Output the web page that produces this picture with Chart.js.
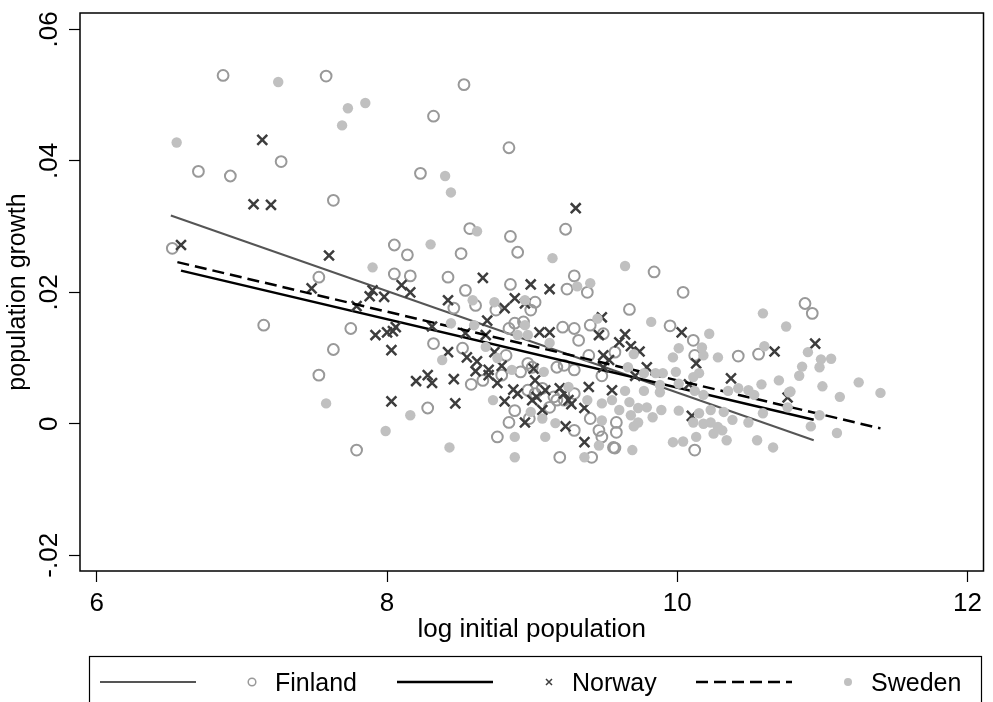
<!DOCTYPE html>
<html>
<head>
<meta charset="utf-8">
<script src="https://cdn.jsdelivr.net/npm/chart.js@4.4.1/dist/chart.umd.min.js"></script>
<style>
    html, body { margin: 0; padding: 0; background: #fff; }
    #wrap { width: 993px; height: 702px; }
</style>
</head>
<body>
<div id="wrap"><canvas id="growth"></canvas></div>
<script>
// [log initial population, population growth]
const finland = [
    [6.87, .0530], [7.58, .0529], [8.53, .0516], [6.70, .0384], [6.92, .0377], [7.27, .0399],
    [7.63, .0340], [8.32, .0468], [8.84, .0420], [8.23, .0381], [6.52, .0267], [8.05, .0272],
    [8.14, .0257], [7.53, .0223], [8.05, .0228], [8.16, .0225], [7.15, .0150], [7.75, .0145],
    [7.63, .0113], [7.53, .0074], [8.32, .0122], [8.28, .0024], [7.79, -.0040],
    [8.57, .0297], [8.85, .0285], [9.23, .0296], [8.51, .0259], [8.90, .0261], [8.42, .0223],
    [8.85, .0212], [8.54, .0203], [9.29, .0225], [9.24, .0205], [9.38, .0200], [8.61, .0180],
    [8.46, .0176], [8.75, .0173], [9.02, .0185], [8.99, .0173], [8.84, .0145], [8.88, .0153],
    [8.94, .0155], [9.21, .0147], [9.29, .0145], [9.32, .0127], [9.40, .0150], [9.49, .0137],
    [8.52, .0115], [8.82, .0104], [8.97, .0092], [8.79, .0074], [8.92, .0079], [9.00, .0086],
    [9.17, .0086], [9.22, .0089], [9.29, .0082], [9.39, .0104], [8.66, .0066], [8.58, .0060],
    [8.97, .0051], [9.02, .0046], [9.07, .0054], [9.15, .0041], [9.17, .0036], [9.22, .0036],
    [9.29, .0046], [9.12, .0025], [8.88, .0020], [8.84, .0002], [8.98, .0008], [9.29, -.0010],
    [9.40, .0008], [9.46, -.0010], [9.48, -.0020], [8.76, -.0020], [9.19, -.0051], [9.41, -.0051],
    [9.56, -.0036], [9.84, .0231], [10.04, .0200], [9.67, .0174], [9.95, .0149], [10.11, .0127],
    [10.12, .0104], [10.42, .0103], [10.56, .0106], [9.57, .0109], [9.48, .0073], [9.58, .0002],
    [9.58, -.0013], [9.57, -.0037], [10.12, -.0040], [10.88, .0183], [10.93, .0168],
];
const norway = [
    [7.14, .0432], [7.08, .0334], [7.20, .0333], [6.58, .0272], [7.60, .0256], [9.30, .0328],
    [7.48, .0206], [7.90, .0203], [7.88, .0194], [7.98, .0193], [8.10, .0211], [8.16, .0200],
    [7.79, .0179], [7.92, .0135], [8.00, .0139], [8.04, .0141], [8.06, .0147], [8.03, .0112],
    [8.31, .0148], [8.20, .0065], [8.28, .0074], [8.31, .0062], [8.03, .0034],
    [8.66, .0222], [8.99, .0212], [9.12, .0205], [8.42, .0188], [8.88, .0191], [8.95, .0183],
    [8.81, .0176], [8.69, .0157], [8.54, .0138], [8.68, .0135], [9.05, .0139], [9.12, .0139],
    [9.46, .0135], [9.48, .0162], [8.42, .0109], [8.55, .0101], [8.62, .0095], [8.74, .0109],
    [8.61, .0080], [8.70, .0082], [8.70, .0074], [8.76, .0062], [8.79, .0088], [9.01, .0084],
    [9.02, .0066], [8.46, .0068], [8.47, .0031], [8.87, .0052], [8.90, .0046], [8.81, .0034],
    [9.00, .0036], [9.03, .0041], [9.07, .0021], [9.09, .0051], [9.19, .0054], [9.22, .0046],
    [9.25, .0036], [9.27, .0030], [9.36, .0024], [9.39, .0056], [9.55, .0051], [8.95, .0002],
    [9.23, -.0004], [9.36, -.0028], [9.49, .0104], [9.53, .0097],
    [9.64, .0136], [9.60, .0124], [9.68, .0118], [9.74, .0110], [10.03, .0139], [9.49, .0086],
    [9.79, .0086], [9.71, .0073], [10.13, .0092], [10.08, .0060], [10.10, .0012], [10.37, .0069],
    [10.67, .0110], [10.76, .0040], [10.95, .0122],
];
const sweden = [
    [7.25, .0520], [7.73, .0480], [7.85, .0488], [7.69, .0454], [6.55, .0428], [8.30, .0273],
    [7.90, .0238], [8.40, .0377], [8.44, .0352], [7.58, .0031], [8.16, .0013], [7.99, -.0011],
    [8.62, .0293], [9.14, .0252], [9.40, .0214], [9.31, .0209], [8.59, .0188], [8.74, .0185],
    [8.95, .0188], [8.44, .0153], [8.60, .0150], [8.90, .0135], [8.97, .0135], [8.95, .0150],
    [9.12, .0123], [9.45, .0160], [8.68, .0117], [8.38, .0097], [8.76, .0100], [8.86, .0082],
    [9.08, .0079], [9.25, .0056], [8.73, .0036], [8.99, .0018], [9.07, .0008], [9.16, .0001],
    [9.38, .0036], [9.48, .0031], [9.48, .0005], [8.88, -.0020], [9.09, -.0020], [8.43, -.0036],
    [8.88, -.0051], [9.36, -.0051], [9.46, -.0033],
    [9.64, .0240], [10.59, .0168], [10.75, .0148], [9.82, .0155], [10.22, .0137], [10.01, .0115],
    [10.17, .0116], [10.18, .0104], [10.60, .0118], [9.97, .0101], [10.28, .0101], [9.70, .0106],
    [9.66, .0086], [9.77, .0077], [9.85, .0077], [9.90, .0077], [9.99, .0079], [10.11, .0071],
    [10.15, .0077], [10.01, .0061], [9.77, .0050], [9.64, .0050], [9.88, .0048], [9.88, .0059],
    [10.12, .0050], [10.18, .0044], [10.35, .0050], [10.49, .0051], [10.53, .0044], [10.42, .0054],
    [10.58, .0060], [10.70, .0066], [10.77, .0048], [9.55, .0036], [9.67, .0033], [9.73, .0024],
    [9.79, .0025], [9.89, .0021], [10.01, .0020], [10.15, .0016], [10.23, .0021], [10.32, .0018],
    [10.38, .0006], [10.59, .0016], [9.68, .0013], [9.60, .0021], [9.70, -.0004], [9.73, .0002],
    [9.83, .0010], [10.11, .0002], [10.18, .0000], [10.23, .0002], [10.28, -.0005], [10.31, -.0010],
    [10.25, -.0015], [10.13, -.0020], [10.34, -.0025], [10.49, .0002], [10.55, -.0025], [10.66, -.0036],
    [9.97, -.0028], [10.04, -.0027], [9.69, -.0040],
    [10.90, .0109], [10.99, .0098], [11.06, .0099], [10.98, .0086], [10.86, .0087], [10.84, .0073],
    [10.78, .0049], [11.00, .0057], [11.25, .0063], [11.12, .0041], [11.40, .0047], [10.76, .0025],
    [10.98, .0013], [10.92, -.0004], [11.10, -.0014],
];

// fitted lines, read at their end points
const fitFinland = [[6.51, .0317], [10.94, -.0025]];
const fitNorway = [[6.58, .0233], [10.94, .0006]];
const fitSweden = [[6.555, .0246], [11.40, -.0007]];

const countries = ["Finland", "Norway", "Sweden"];
const xTicks = [6, 8, 10, 12];
const yTicks = [-.02, 0, .02, .04, .06];
const yTickLabels = ["-.02", "0", ".02", ".04", ".06"];

const FONT = "'Liberation Sans', Arial, sans-serif";
const toXY = (pts) => pts.map(([x, y]) => ({ x, y }));

const lineStyles = [
    { color: "#555555", width: 2, dash: [] },
    { color: "#000000", width: 2.5, dash: [] },
    { color: "#000000", width: 2.5, dash: [12, 6] },
];

function fitLine(pts, i, order) {
    return {
        label: "",
        data: toXY(pts),
        showLine: true,
        pointRadius: 0,
        borderColor: lineStyles[i].color,
        borderWidth: lineStyles[i].width,
        borderDash: lineStyles[i].dash,
        order: order,
    };
}

// frame round the plot region, rotated y tick labels, boxed legend
const stataBits = {
    id: "stataBits",
    afterDraw(chart) {
        const ctx = chart.ctx;
        const a = chart.chartArea;
        const ys = chart.scales.y;
        ctx.save();
        ctx.strokeStyle = "#000";
        ctx.lineWidth = 1.5;
        ctx.strokeRect(a.left, a.top, a.right - a.left, a.bottom - a.top);

        ctx.fillStyle = "#000";
        ctx.font = "26px " + FONT;
        ctx.textAlign = "center";
        ctx.textBaseline = "middle";
        yTicks.forEach((v, i) => {
            ctx.save();
            ctx.translate(50, ys.getPixelForValue(v));
            ctx.rotate(-Math.PI / 2);
            ctx.fillText(yTickLabels[i], 0, 0);
            ctx.restore();
        });

        // legend
        ctx.lineWidth = 1.2;
        ctx.strokeRect(89.5, 656.5, 892, 60);
        const ly = 682;
        const cols = [100, 397, 696];
        const sets = chart.data.datasets;
        countries.forEach((name, i) => {
            const x0 = cols[i];
            const st = lineStyles[i];
            ctx.strokeStyle = st.color;
            ctx.lineWidth = st.width;
            ctx.setLineDash(st.dash);
            ctx.beginPath();
            ctx.moveTo(x0, ly);
            ctx.lineTo(x0 + 96, ly);
            ctx.stroke();
            ctx.setLineDash([]);

            const mx = x0 + 152;
            const ds = sets[i * 2 + 1];
            if (i === 0) {
                ctx.strokeStyle = ds.borderColor;
                ctx.lineWidth = 1.5;
                ctx.beginPath();
                ctx.arc(mx, ly, 3.8, 0, Math.PI * 2);
                ctx.stroke();
            } else if (i === 1) {
                ctx.strokeStyle = ds.borderColor;
                ctx.lineWidth = 1.5;
                ctx.beginPath();
                ctx.moveTo(mx - 3, ly - 3); ctx.lineTo(mx + 3, ly + 3);
                ctx.moveTo(mx - 3, ly + 3); ctx.lineTo(mx + 3, ly - 3);
                ctx.stroke();
            } else {
                ctx.fillStyle = ds.backgroundColor;
                ctx.beginPath();
                ctx.arc(mx, ly, 4, 0, Math.PI * 2);
                ctx.fill();
            }
            ctx.fillStyle = "#000";
            ctx.font = "25px " + FONT;
            ctx.textAlign = "left";
            ctx.textBaseline = "alphabetic";
            ctx.fillText(name, x0 + 175, ly + 9);
        });
        ctx.restore();
    },
};

new Chart(document.getElementById("growth"), {
    type: "scatter",
    data: {
        datasets: [
            fitLine(fitFinland, 0, 5),
            {
                label: "Finland",
                data: toXY(finland),
                pointStyle: "circle",
                pointRadius: 5.4,
                pointBorderWidth: 2,
                borderColor: "#999999",
                backgroundColor: "rgba(0,0,0,0)",
                order: 4,
            },
            fitLine(fitNorway, 1, 3),
            {
                label: "Norway",
                data: toXY(norway),
                pointStyle: "crossRot",
                pointRadius: 7,
                pointBorderWidth: 2.5,
                borderColor: "#3d3d3d",
                backgroundColor: "#3d3d3d",
                order: 2,
            },
            fitLine(fitSweden, 2, 1),
            {
                label: "Sweden",
                data: toXY(sweden),
                pointStyle: "circle",
                pointRadius: 5.2,
                pointBorderWidth: 0,
                borderColor: "#c0c0c0",
                backgroundColor: "#c0c0c0",
                order: 0,
            },
        ],
    },
    options: {
        responsive: true,
        maintainAspectRatio: false,
        animation: false,
        devicePixelRatio: 1,
        layout: { padding: { left: 0, right: 4, top: 13, bottom: 0 } },
        plugins: { legend: { display: false }, tooltip: { enabled: false } },
        scales: {
            x: {
                type: "linear",
                min: 5.884,
                max: 12.11,
                afterBuildTicks: (s) => { s.ticks = xTicks.map((v) => ({ value: v })); },
                afterFit: (s) => { s.height = 131; },
                ticks: {
                    color: "#000",
                    padding: 6,
                    font: { family: FONT, size: 26 },
                    callback: (v) => String(v),
                },
                grid: { drawOnChartArea: false, tickLength: 11, tickColor: "#000", tickWidth: 1.2 },
                border: { display: false },
                title: {
                    display: true,
                    text: "log initial population",
                    color: "#000",
                    font: { family: FONT, size: 26 },
                    padding: { top: 0, bottom: 57 },
                },
            },
            y: {
                type: "linear",
                min: -0.0224,
                max: 0.0625,
                afterBuildTicks: (s) => { s.ticks = yTicks.map((v) => ({ value: v })); },
                afterFit: (s) => { s.width = 80; },
                ticks: { display: false },
                grid: { drawOnChartArea: false, tickLength: 11, tickColor: "#000", tickWidth: 1.2 },
                border: { display: false },
                title: {
                    display: true,
                    text: "population growth",
                    color: "#000",
                    font: { family: FONT, size: 25 },
                    padding: { top: 3, bottom: 0 },
                },
            },
        },
    },
    plugins: [stataBits],
});
</script>
</body>
</html>
